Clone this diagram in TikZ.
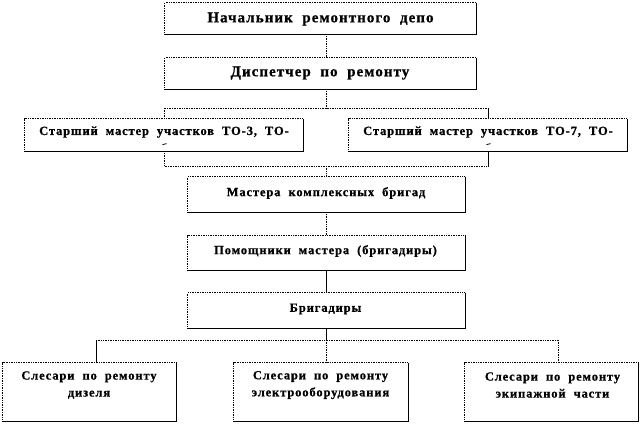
\documentclass[tikz,border=0pt]{standalone}
\usepackage{fontspec}
\setmainfont{Liberation Serif}
\newfontfamily\wsfont[WordSpace=2,LetterSpace=7,FakeBold=0.8]{Liberation Serif}
\begin{document}
\begin{tikzpicture}[x=1pt,y=-1pt,
  ln/.style={line width=0.7pt},
  dt/.style={line width=0.7pt, densely dotted},
  obox/.style={inner sep=0pt, fill=white},
  bigtxt/.style={inner sep=0pt, font=\wsfont\bfseries\fontsize{15}{17}\selectfont},
  smtxt/.style={inner sep=0pt, align=center, font=\wsfont\bfseries\fontsize{12.5}{17}\selectfont}]
\useasboundingbox[fill=white] (0,0) rectangle (642,424);
\newcommand\edges[1]{%
  \draw[dt] (#1.south west) |- (#1.north east);
  \draw[ln] (#1.north east) |- (#1.south west);}
% boxes
\node[obox, minimum width=311pt, minimum height=31pt] (b1) at (320.5,18.5) {};
\node[obox, minimum width=311pt, minimum height=31pt] (b2) at (320.5,73.5) {};
\node[obox, minimum width=278pt, minimum height=32pt] (b3l) at (164,135) {};
\node[obox, minimum width=278pt, minimum height=32pt] (b3r) at (488,135) {};
\node[obox, minimum width=277pt, minimum height=35pt] (b4) at (326.5,194.5) {};
\node[obox, minimum width=277pt, minimum height=34pt] (b5) at (326.5,253) {};
\node[obox, minimum width=277pt, minimum height=35pt] (b6) at (326.5,310.5) {};
\node[obox, minimum width=173pt, minimum height=58pt] (s1) at (89.5,392) {};
\node[obox, minimum width=174pt, minimum height=58pt] (s2) at (321,392) {};
\node[obox, minimum width=173pt, minimum height=58pt] (s3) at (551.5,392) {};
\foreach \n in {b1,b2,b3l,b3r,b4,b5,b6,s1,s2,s3} {\edges{\n}}
% coordinates
\coordinate (cx) at (326,0);
\coordinate (ub) at (326,108);
\coordinate (lb) at (326,166);
\coordinate (bb) at (326,340);
\coordinate (bl) at (96,340);
\coordinate (br) at (558,340);
% connectors
\draw[dt] (b1.south -| cx) -- (b2.north -| cx);
\draw[dt] (b2.south -| cx) -- (ub);
\draw[dt] (b3l.north) |- (ub) -- (ub -| b3r);
\draw[ln] (b3r.north) -- (ub -| b3r);
\draw[dt] (b3l.south) |- (lb) -- (lb -| b3r);
\draw[ln] (b3r.south) -- (lb -| b3r);
\draw[dt] (lb) -- (b4.north -| cx);
\draw[dt] (b4.south -| cx) -- (b5.north -| cx);
\draw[ln] (b5.south -| cx) -- (b6.north -| cx);
\draw[ln] (b6.south -| cx) -- (bb);
\draw[dt] (bb) -- (s2.north -| cx);
\draw[dt] (bl) -- (br);
\draw[ln] (bl) -- (bl |- s1.north);
\draw[dt] (br) -- (br |- s3.north);
% small marks inside upper boxes
\draw[line width=0.8pt] (162.5,144.6) -- (166.5,143.6);
\draw[line width=0.8pt] (486.5,144.6) -- (490.5,143.6);
% texts
\node[bigtxt] (t1) at (320.5,19) {Начальник ремонтного депо};
\node[bigtxt] (t2) at (320,73) {Диспетчер по ремонту};
\node[smtxt] (t3l) at (164,132) {Старший мастер участков ТО-3, ТО-};
\node[smtxt] (t3r) at (488,132) {Старший мастер участков ТО-7, ТО-};
\node[smtxt] (t4) at (326,193) {Мастера комплексных бригад};
\node[smtxt] (t5) at (325.5,251) {Помощники мастера (бригадиры)};
\node[smtxt] (t6) at (325.5,309) {Бригадиры};
\node[smtxt] (u1) at (89,385) {Слесари по ремонту\\дизеля};
\node[smtxt] (u2) at (320.5,385) {Слесари по ремонту\\электрооборудования};
\node[smtxt] (u3) at (552.5,385) {Слесари по ремонту\\экипажной части};
\end{tikzpicture}
\end{document}
